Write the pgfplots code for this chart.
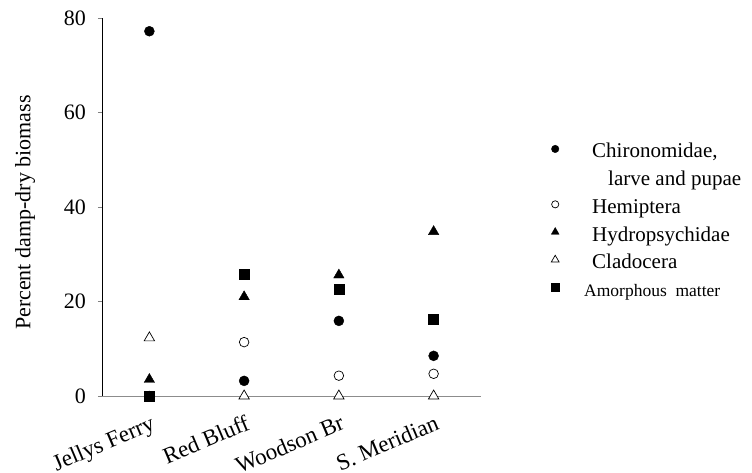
\documentclass[border=0pt]{standalone}
\usepackage{fontspec}
\setmainfont{Liberation Serif}
\usepackage{pgfplots}
\pgfplotsset{compat=1.18}
\newcommand\lstrut{\rule[-8pt]{0pt}{27.5pt}}
\begin{document}
\begin{tikzpicture}
\useasboundingbox (-102pt,-77pt) rectangle (650pt,396pt);
\begin{axis}[
  scale only axis,
  width=379pt, height=378pt,
  xmin=-0.5, xmax=3.5, ymin=0, ymax=80,
  xtick={0,1,2,3},
  xticklabels={Jellys Ferry, Red Bluff, Woodson Br, S. Meridian},
  ytick={0,20,40,60,80},
  axis lines*=left,
  axis line style={-},
  x axis line style={draw=gray!90},
  y axis line style={black},
  major x tick style={draw=none},
  tick align=outside,
  major tick length=4pt,
  ytick pos=left,
  clip=false,
  /pgf/number format/assume math mode=true,
  yticklabel style={font=\fontsize{22}{25}\selectfont, inner sep=0pt, anchor=east, xshift=-12pt},
  xticklabel style={font=\fontsize{23}{26}\selectfont, rotate=23, anchor=north east, inner sep=0pt, yshift=-13pt, xshift=-5pt},
  ylabel={Percent damp-dry biomass},
  every axis y label/.style={at={(axis description cs:-0.2296,0.485)}, rotate=90, anchor=north, inner sep=0pt, font=\fontsize{22}{25}\selectfont},
  legend cell align=left,
  legend image code/.code={\draw[#1,/tikz/every mark/.append style={scale=0.75}] plot coordinates {(5pt,0pt)}; \path[draw=none,fill=none] (0pt,0pt) -- (40pt,0pt);},
  legend style={draw=none, fill=none, inner sep=0pt, at={(1.1821,0.6872)}, anchor=north west, row sep=2.7pt, column sep=0pt, cells={anchor=west, inner sep=0pt}, font=\fontsize{21}{27.5}\selectfont},
]
\addplot[only marks, mark=*, mark size=5pt, draw=black, fill=black] coordinates {(0,77.2) (1,3.2) (2,15.9) (3,8.5)};
\addlegendentry{\lstrut Chironomidae,}
\addlegendimage{empty legend}
\addlegendentry{\lstrut\hspace*{16pt}larve and pupae}
\addplot[only marks, mark=*, mark size=4.8pt, draw=black, fill=white, line width=0.7pt] coordinates {(0,0) (1,11.4) (2,4.3) (3,4.7)};
\addlegendentry{\lstrut Hemiptera}
\addplot[only marks, mark=triangle*, mark size=6pt, draw=black, fill=black] coordinates {(0,3.5) (1,21.0) (2,25.6) (3,34.8)};
\addlegendentry{\lstrut Hydropsychidae}
\addplot[only marks, mark=triangle*, mark size=6pt, draw=black, fill=white, line width=0.7pt] coordinates {(0,12.3) (1,0) (2,0) (3,0)};
\addlegendentry{\lstrut Cladocera}
\addplot[only marks, mark=square*, mark size=5pt, draw=black, fill=black] coordinates {(0,0) (1,25.8) (2,22.7) (3,16.3)};
\addlegendentry{\lstrut\fontsize{17.5}{20}\selectfont\hspace*{-8pt}Amorphous\ \ matter}
\end{axis}
\end{tikzpicture}
\end{document}
